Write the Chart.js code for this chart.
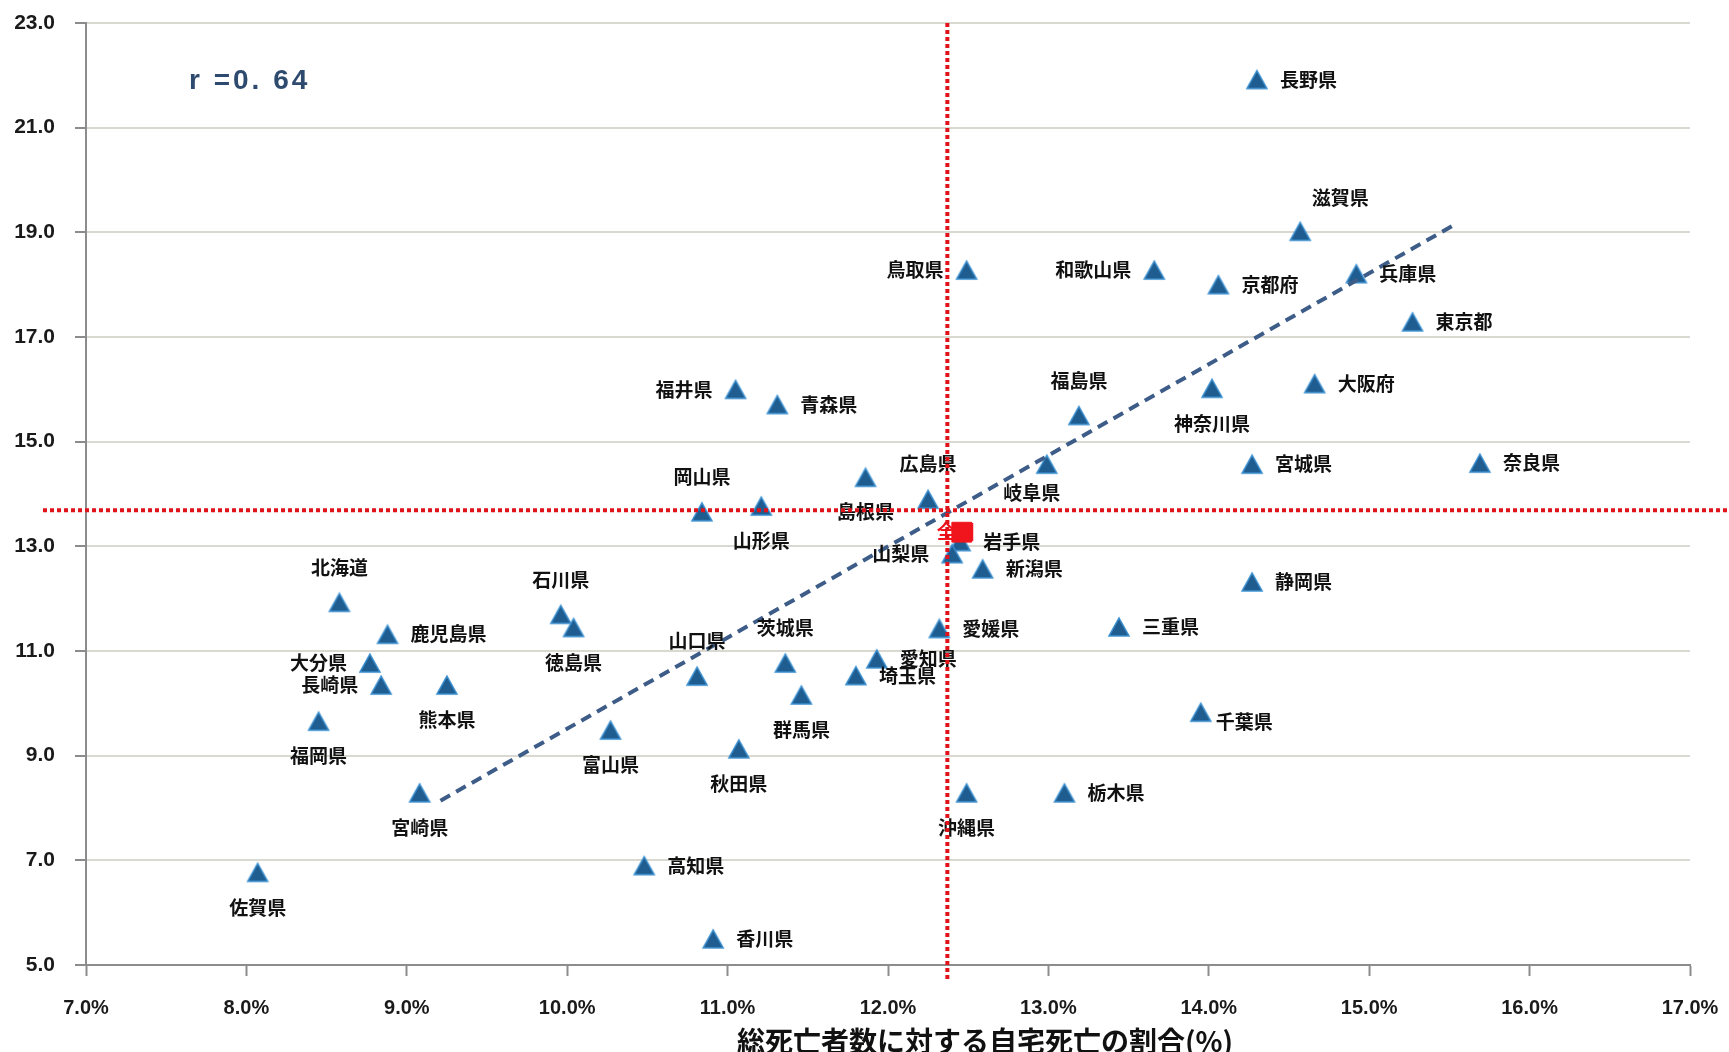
<!DOCTYPE html>
<html lang="ja">
<head>
    <meta charset="UTF-8">
    <title>自宅死亡の割合</title>
    <style>
        body { margin: 0; background: #fff; }
        #wrap { width: 1729px; height: 1052px; position: relative; }
    </style>
    <script src="https://cdn.jsdelivr.net/npm/chart.js"></script>
</head>
<body>
    <div id="wrap"><canvas id="myChart"></canvas></div>
    <script>
        // prefecture names, x = share of home deaths (%), y = indicator value
        const prefNames = ['長野県','滋賀県','鳥取県','和歌山県','京都府','兵庫県','東京都','福井県','青森県','神奈川県',
            '大阪府','福島県','広島県','島根県','岐阜県','宮城県','奈良県','岡山県','山形県','岩手県',
            '山梨県','新潟県','北海道','石川県','徳島県','静岡県','鹿児島県','山口県','茨城県','愛媛県',
            '三重県','大分県','愛知県','長崎県','埼玉県','熊本県','群馬県','千葉県','福岡県','富山県',
            '秋田県','宮崎県','沖縄県','栃木県','佐賀県','高知県','香川県'];
        const homeDeathPct = [14.30,14.57,12.49,13.66,14.06,14.92,15.27,11.05,11.31,14.02,
            14.66,13.19,12.25,11.86,12.99,14.27,15.69,10.84,11.21,12.45,
            12.40,12.59,8.58,9.96,10.04,14.27,8.88,10.81,11.36,12.32,
            13.44,8.77,11.93,8.84,11.80,9.25,11.46,13.95,8.45,10.27,
            11.07,9.08,12.49,13.10,8.07,10.48,10.91];
        const yValues = [21.92,19.02,18.28,18.28,18.00,18.21,17.29,16.00,15.71,16.02,
            16.11,15.50,13.90,14.32,14.57,14.57,14.59,13.66,13.77,13.09,
            12.86,12.57,11.93,11.70,11.45,12.32,11.32,10.52,10.77,11.43,
            11.46,10.77,10.85,10.35,10.53,10.35,10.16,9.83,9.66,9.49,
            9.13,8.29,8.29,8.29,6.77,6.90,5.50];

        const nationalName = '全国';
        const nationalX = 12.46;
        const nationalY = 13.27;

        // red reference lines
        const refX = 12.37;
        const refY = 13.69;

        // trend line ends
        const trendX = [9.21, 15.54];
        const trendY = [8.14, 19.16];

        const xTicks = [7, 8, 9, 10, 11, 12, 13, 14, 15, 16, 17];
        const yTicks = [5, 7, 9, 11, 13, 15, 17, 19, 21, 23];
        const corrText = 'r =0. 64';
        const xTitle = '総死亡者数に対する自宅死亡の割合(%)';

        // where each label sits relative to its marker
        const labelPos = {
            '長野県':'r','滋賀県':'ar','鳥取県':'l','和歌山県':'l','京都府':'r','兵庫県':'r','東京都':'r',
            '福井県':'l','青森県':'r','神奈川県':'b','大阪府':'r','福島県':'a','広島県':'a','島根県':'b',
            '岐阜県':'bl','宮城県':'r','奈良県':'r','岡山県':'a','山形県':'b','岩手県':'r','山梨県':'l',
            '新潟県':'r','北海道':'a','石川県':'a','徳島県':'b','静岡県':'r','鹿児島県':'r','山口県':'a',
            '茨城県':'a','愛媛県':'r','三重県':'r','大分県':'l','愛知県':'r','長崎県':'l','埼玉県':'r',
            '熊本県':'b','群馬県':'b','千葉県':'rb','福岡県':'b','富山県':'b','秋田県':'b','宮崎県':'b',
            '沖縄県':'b','栃木県':'r','佐賀県':'b','高知県':'r','香川県':'r'
        };

        const jpFont = '"Noto Sans CJK JP", "Noto Sans", sans-serif';
        const numFont = '"Liberation Sans", Arial, sans-serif';

        // triangle marker, centred on its bounding box like the spreadsheet marker
        function makeTriangle() {
            const c = document.createElement('canvas');
            c.width = 24; c.height = 22;
            const g = c.getContext('2d');
            g.beginPath();
            g.moveTo(12, 2);
            g.lineTo(22, 20);
            g.lineTo(2, 20);
            g.closePath();
            g.fillStyle = '#1f5c8f';
            g.fill();
            g.strokeStyle = '#3a8fd0';
            g.lineWidth = 1.5;
            g.stroke();
            return c;
        }
        const triangleImg = makeTriangle();

        const overlay = {
            id: 'overlay',
            afterDatasetsDraw(chart) {
                const ctx = chart.ctx;
                const a = chart.chartArea;
                const xs = chart.scales.x, ys = chart.scales.y;
                ctx.save();

                // prefecture labels
                ctx.font = 'bold 19px ' + jpFont;
                ctx.fillStyle = '#111';
                const meta = chart.getDatasetMeta(2);
                meta.data.forEach((pt, i) => {
                    const name = prefNames[i];
                    const p = labelPos[name] || 'r';
                    let tx = pt.x, ty = pt.y, align = 'center';
                    if (p === 'r') { tx += 23; align = 'left'; }
                    else if (p === 'l') { tx -= 23; align = 'right'; }
                    else if (p === 'a') { ty -= 35; }
                    else if (p === 'b') { ty += 35; }
                    else if (p === 'ar') { tx += 40; ty -= 34; }
                    else if (p === 'bl') { tx -= 15; ty += 29; }
                    else if (p === 'rb') { tx += 15; ty += 10; align = 'left'; }
                    ctx.textAlign = align;
                    ctx.textBaseline = 'middle';
                    ctx.fillText(name, tx, ty);
                });

                // national label
                const nm = chart.getDatasetMeta(1).data[0];
                ctx.fillStyle = '#f0141c';
                ctx.textAlign = 'center';
                ctx.fillText(nationalName, nm.x - 6, nm.y);

                // red dotted reference lines
                ctx.strokeStyle = '#e0121a';
                ctx.lineWidth = 4;
                ctx.setLineDash([4, 3]);
                const hy = ys.getPixelForValue(refY);
                ctx.beginPath();
                ctx.moveTo(43, hy);
                ctx.lineTo(chart.width, hy);
                ctx.stroke();
                const vx = xs.getPixelForValue(refX);
                ctx.beginPath();
                ctx.moveTo(vx, a.top);
                ctx.lineTo(vx, a.bottom + 17);
                ctx.stroke();
                ctx.setLineDash([]);

                // correlation text
                ctx.fillStyle = '#2e4a6e';
                ctx.font = 'bold 28px ' + numFont;
                if ('letterSpacing' in ctx) ctx.letterSpacing = '3px';
                ctx.textAlign = 'left';
                ctx.fillText(corrText, a.left + 103, a.top + 58);
                if ('letterSpacing' in ctx) ctx.letterSpacing = '0px';

                // x axis title
                ctx.fillStyle = '#111';
                ctx.font = 'bold 28px ' + jpFont;
                ctx.textAlign = 'center';
                ctx.fillText(xTitle, 985, 1041);
                ctx.restore();
            }
        };

        const ctx = document.getElementById('myChart').getContext('2d');
        const myChart = new Chart(ctx, {
            type: 'scatter',
            data: {
                datasets: [{
                    type: 'line',
                    data: trendX.map((v, i) => ({ x: v, y: trendY[i] })),
                    borderColor: '#3d5d88',
                    borderWidth: 4,
                    borderDash: [11, 7],
                    pointRadius: 0,
                    fill: false
                }, {
                    data: [{ x: nationalX, y: nationalY }],
                    pointStyle: 'rect',
                    pointRadius: 14,
                    backgroundColor: '#f0141c',
                    borderColor: '#f0141c',
                    borderWidth: 1
                }, {
                    data: homeDeathPct.map((v, i) => ({ x: v, y: yValues[i] })),
                    pointStyle: triangleImg,
                    pointRadius: 11
                }]
            },
            options: {
                responsive: true,
                maintainAspectRatio: false,
                animation: false,
                layout: { padding: { top: 23, right: 39, bottom: 0, left: 0 } },
                scales: {
                    x: {
                        type: 'linear',
                        min: 7,
                        max: 17,
                        afterBuildTicks: s => { s.ticks = xTicks.map(v => ({ value: v })); },
                        afterFit: s => { s.height = 87; s.paddingLeft = 0; s.paddingRight = 0; },
                        ticks: {
                            padding: 20,
                            color: '#1a1a1a',
                            font: { family: numFont, size: 20, weight: 'bold' },
                            callback: v => v.toFixed(1) + '%'
                        },
                        grid: {
                            drawOnChartArea: false,
                            tickLength: 11,
                            tickColor: '#8c8c8c',
                            tickWidth: 2
                        },
                        border: { color: '#8c8c8c', width: 2 }
                    },
                    y: {
                        min: 5,
                        max: 23,
                        afterBuildTicks: s => { s.ticks = yTicks.map(v => ({ value: v })); },
                        afterFit: s => { s.width = 86; s.paddingTop = 0; s.paddingBottom = 0; },
                        ticks: {
                            padding: 20,
                            color: '#1a1a1a',
                            font: { family: numFont, size: 21, weight: 'bold' },
                            callback: v => v.toFixed(1)
                        },
                        grid: {
                            color: '#d9d9d1',
                            lineWidth: 2,
                            tickLength: 11,
                            tickColor: '#8c8c8c',
                            tickWidth: 2
                        },
                        border: { color: '#8c8c8c', width: 2 }
                    }
                },
                plugins: {
                    legend: { display: false },
                    tooltip: { enabled: false }
                }
            },
            plugins: [overlay]
        });
    </script>
</body>
</html>
